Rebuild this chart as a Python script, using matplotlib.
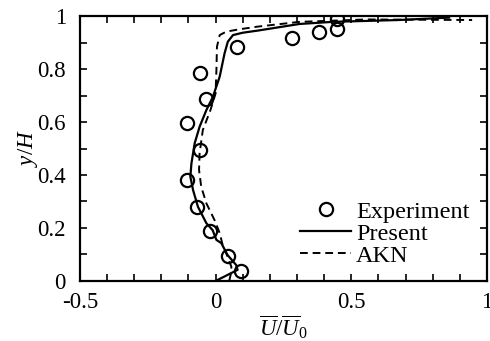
import matplotlib
matplotlib.use("Agg")
import matplotlib.pyplot as plt
from matplotlib import ticker

plt.rcParams['font.family'] = 'Liberation Serif'
plt.rcParams['mathtext.fontset'] = 'custom'
plt.rcParams['mathtext.rm'] = 'Liberation Serif'
plt.rcParams['mathtext.it'] = 'Liberation Serif:italic'

# experiment points
exp_u = [0.092, 0.044, -0.022, -0.070, -0.107, -0.056, -0.107, -0.037, -0.056,
         0.078, 0.281, 0.380, 0.446, 0.446]
exp_y = [0.038, 0.094, 0.190, 0.280, 0.380, 0.494, 0.595, 0.686, 0.786,
         0.884, 0.916, 0.941, 0.950, 0.989]

# present model
pre_u = [0.000, 0.081, 0.076, 0.044, 0.021, 0.003, -0.011, -0.034, -0.065, -0.083,
         -0.093, -0.089, -0.077, -0.059, -0.034, -0.010, 0.015, 0.033, 0.045, 0.064,
         0.100, 0.155, 0.309, 0.431, 0.676, 0.860]
pre_y = [0.000, 0.042, 0.060, 0.098, 0.143, 0.155, 0.192, 0.218, 0.280, 0.343,
         0.394, 0.444, 0.520, 0.582, 0.645, 0.695, 0.771, 0.859, 0.903, 0.928,
         0.937, 0.945, 0.970, 0.978, 0.985, 0.994]

# AKN model
akn_u = [0.050, 0.057, 0.058, 0.044, 0.026, 0.015, -0.004, -0.034, -0.053, -0.061,
         -0.059, -0.047, -0.019, 0.000, 0.003, 0.005, 0.015, 0.039, 0.088, 0.155,
         0.309, 0.554, 0.945]
akn_y = [0.000, 0.030, 0.054, 0.092, 0.136, 0.181, 0.230, 0.293, 0.356, 0.419,
         0.482, 0.570, 0.645, 0.708, 0.796, 0.884, 0.928, 0.941, 0.950, 0.960,
         0.978, 0.987, 0.985]

fig = plt.figure(figsize=(4.9, 3.41), dpi=100)
ax = fig.add_axes([0.163, 0.176, 0.831, 0.777])

ax.plot(exp_u, exp_y, 'o', mfc='none', mec='black', ms=9.5, mew=1.6, label='Experiment')
ax.plot(pre_u, pre_y, 'k-', lw=1.6, label='Present')
ax.plot(akn_u, akn_y, 'k--', lw=1.4, dashes=(4, 2.5), label='AKN')

ax.set_xlim(-0.5, 1)
ax.set_ylim(0, 1)
ax.xaxis.set_major_locator(ticker.MultipleLocator(0.5))
ax.xaxis.set_minor_locator(ticker.MultipleLocator(0.1))
ax.yaxis.set_major_locator(ticker.MultipleLocator(0.2))
ax.yaxis.set_minor_locator(ticker.MultipleLocator(0.1))
ax.xaxis.set_major_formatter(ticker.FuncFormatter(lambda v, p: '%g' % v))
ax.yaxis.set_major_formatter(ticker.FuncFormatter(lambda v, p: '%g' % v))
ax.tick_params(which='both', direction='in', top=True, right=True,
               length=5, width=1.2, labelsize=16.5)
ax.tick_params(axis='x', pad=8)
ax.tick_params(axis='y', pad=10)
for s in ax.spines.values():
    s.set_linewidth(1.6)

ax.set_xlabel(r'$\overline{U}/\overline{U}_0$', fontsize=16.5, labelpad=0)
ax.set_ylabel(r'$y/H$', fontsize=16.5, labelpad=-2)

ax.legend(loc='lower left', bbox_to_anchor=(0.541, 0.053), frameon=False,
          fontsize=17.5, handlelength=2.1, handletextpad=0.2, labelspacing=0.0,
          borderpad=0, borderaxespad=0)

fig.savefig('out.png', dpi=100)
